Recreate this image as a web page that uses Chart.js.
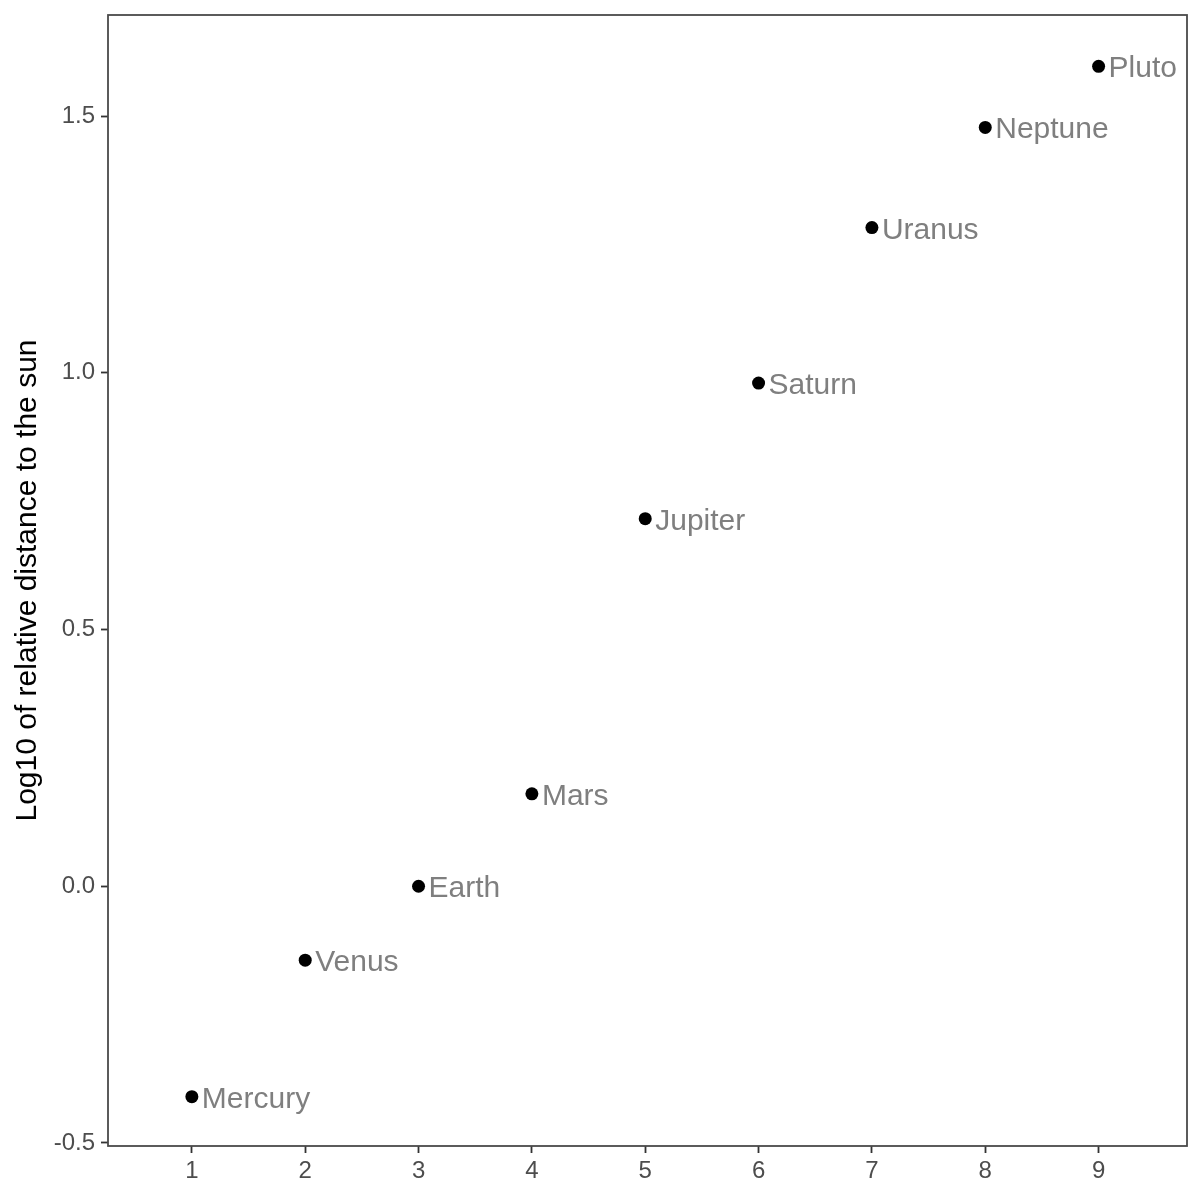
<!DOCTYPE html>
<html>
<head>
<meta charset="utf-8">
<script src="https://cdn.jsdelivr.net/npm/chart.js@4/dist/chart.umd.min.js"></script>
<style>
    html, body { margin: 0; padding: 0; background: #fff; }
    #wrap { width: 1200px; height: 1200px; }
</style>
</head>
<body>
<div id="wrap"><canvas id="myChart" width="1200" height="1200"></canvas></div>
<script>
// values
var planets = ['Mercury', 'Venus', 'Earth', 'Mars', 'Jupiter', 'Saturn', 'Uranus', 'Neptune', 'Pluto'];
var planetOrder = [1, 2, 3, 4, 5, 6, 7, 8, 9];
var logDistance = [-0.41, -0.144, 0.0, 0.18, 0.716, 0.98, 1.283, 1.478, 1.597];

var xTicks = [1, 2, 3, 4, 5, 6, 7, 8, 9];
var yTicks = [-0.5, 0.0, 0.5, 1.0, 1.5];

var FONT = '"Liberation Sans", Arial, Helvetica, sans-serif';

// draws the panel border and the planet names beside the points
var panelPlugin = {
    id: 'panel',
    afterDatasetsDraw: function(chart) {
        var ctx = chart.ctx;
        var area = chart.chartArea;
        var meta = chart.getDatasetMeta(0);

        ctx.save();
        ctx.font = '30px ' + FONT;
        ctx.fillStyle = '#7f7f7f';
        ctx.textAlign = 'left';
        ctx.textBaseline = 'alphabetic';
        meta.data.forEach(function(pt, i) {
            ctx.fillText(planets[i], pt.x + 10, pt.y + 11);
        });
        ctx.restore();

        ctx.save();
        ctx.strokeStyle = '#4a4a4a';
        ctx.lineWidth = 1.8;
        ctx.strokeRect(area.left, area.top, area.right - area.left, area.bottom - area.top);
        ctx.restore();
    }
};

var points = planetOrder.map(function(x, i) {
    return { x: x, y: logDistance[i] };
});

var ctx = document.getElementById('myChart').getContext('2d');
var chart = new Chart(ctx, {
    type: 'scatter',
    data: {
        datasets: [{
            data: points,
            backgroundColor: '#000',
            borderWidth: 0,
            pointRadius: 6.5,
            pointHoverRadius: 6.5
        }]
    },
    options: {
        responsive: false,
        animation: false,
        events: [],
        layout: { padding: { left: 0, top: 15, right: 13, bottom: 0 } },
        plugins: {
            legend: { display: false },
            tooltip: { enabled: false }
        },
        scales: {
            x: {
                type: 'linear',
                min: 0.26,
                max: 9.78,
                border: { display: false },
                grid: {
                    drawOnChartArea: false,
                    drawTicks: true,
                    tickLength: 7,
                    tickWidth: 1.8,
                    tickColor: '#333'
                },
                ticks: {
                    color: '#4d4d4d',
                    font: { family: FONT, size: 24 },
                    padding: 4,
                    maxRotation: 0,
                    callback: function(v) { return String(v); }
                },
                afterBuildTicks: function(scale) {
                    scale.ticks = xTicks.map(function(v) { return { value: v }; });
                },
                afterFit: function(scale) {
                    scale.height = 54;
                    scale.paddingLeft = 0;
                    scale.paddingRight = 0;
                }
            },
            y: {
                type: 'linear',
                min: -0.506,
                max: 1.697,
                border: { display: false },
                grid: {
                    drawOnChartArea: false,
                    drawTicks: true,
                    tickLength: 7,
                    tickWidth: 1.8,
                    tickColor: '#333'
                },
                ticks: {
                    color: '#4d4d4d',
                    font: { family: FONT, size: 24 },
                    padding: 6,
                    callback: function(v) { return Number(v).toFixed(1); }
                },
                title: {
                    display: true,
                    text: 'Log10 of relative distance to the sun',
                    color: '#000',
                    font: { family: FONT, size: 30 },
                    padding: { top: 10, bottom: 0 }
                },
                afterBuildTicks: function(scale) {
                    scale.ticks = yTicks.map(function(v) { return { value: v }; });
                },
                afterFit: function(scale) {
                    scale.width = 108;
                    scale.paddingTop = 0;
                    scale.paddingBottom = 0;
                }
            }
        }
    },
    plugins: [panelPlugin]
});
</script>
</body>
</html>
